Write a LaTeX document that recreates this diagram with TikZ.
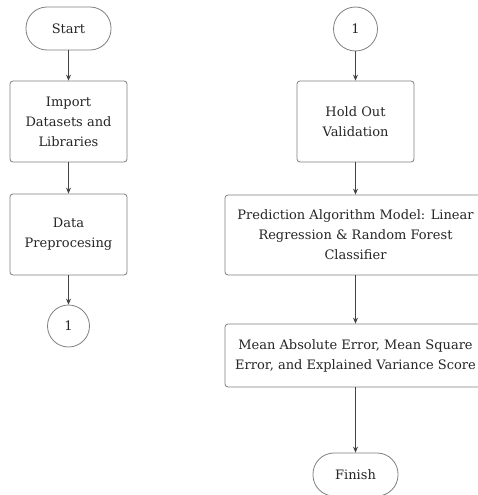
\documentclass[tikz,border=0pt]{standalone}
\usepackage{fontspec}
\setmainfont{DejaVu Serif}
\usetikzlibrary{arrows.meta}
\definecolor{bordc}{HTML}{808080}
\definecolor{arrc}{HTML}{444444}
\definecolor{txtc}{HTML}{262626}
\begin{document}
\begin{tikzpicture}[x=1pt,y=-1pt,
  every node/.style={font=\fontsize{13}{20}\selectfont, text=txtc, align=center, inner sep=0pt},
  procbox/.style={draw=bordc, line width=0.8pt, rounded corners=3pt, fill=white},
  termbox/.style={draw=bordc, line width=0.8pt, rounded corners=21pt, minimum width=85pt, minimum height=43pt},
  conn/.style={draw=bordc, line width=0.8pt, circle},
  flow/.style={draw=arrc, line width=0.7pt, -{Stealth[length=6pt,width=5pt]}}]
\useasboundingbox[fill=white] (0,0) rectangle (478,495);
\node[termbox] (start) at (68.5,28.5) {Start};
\node[procbox, minimum width=117pt, minimum height=81pt] (imp) at (68.5,121.5) {Import\\Datasets and\\Libraries};
\node[procbox, minimum width=117pt, minimum height=81pt] (data) at (68.5,234.5) {Data\\Preprocesing};
\node[conn, minimum size=42pt] (c1) at (68.5,326) {1};
\node[conn, minimum size=44pt] (c2) at (355.5,29) {1};
\node[procbox, minimum width=117pt, minimum height=81pt] (hold) at (355.5,121.5) {Hold Out\\Validation};
\node[procbox, minimum width=261pt, minimum height=80pt] (pred) at (355.5,235) {Prediction Algorithm Model: Linear\\Regression \& Random Forest\\Classifier};
\node[procbox, minimum width=261pt, minimum height=63pt] (mean) at (355.5,355.5) {Mean Absolute Error, Mean Square\\Error, and Explained Variance Score};
\node[termbox] (finish) at (355.5,474.5) {Finish};
\draw[flow] (start) -- (imp);
\draw[flow] (imp) -- (data);
\draw[flow] (data) -- (c1);
\draw[flow] (c2) -- (hold);
\draw[flow] (hold) -- (pred);
\draw[flow] (pred) -- (mean);
\draw[flow] (mean) -- (finish);
\end{tikzpicture}
\end{document}
